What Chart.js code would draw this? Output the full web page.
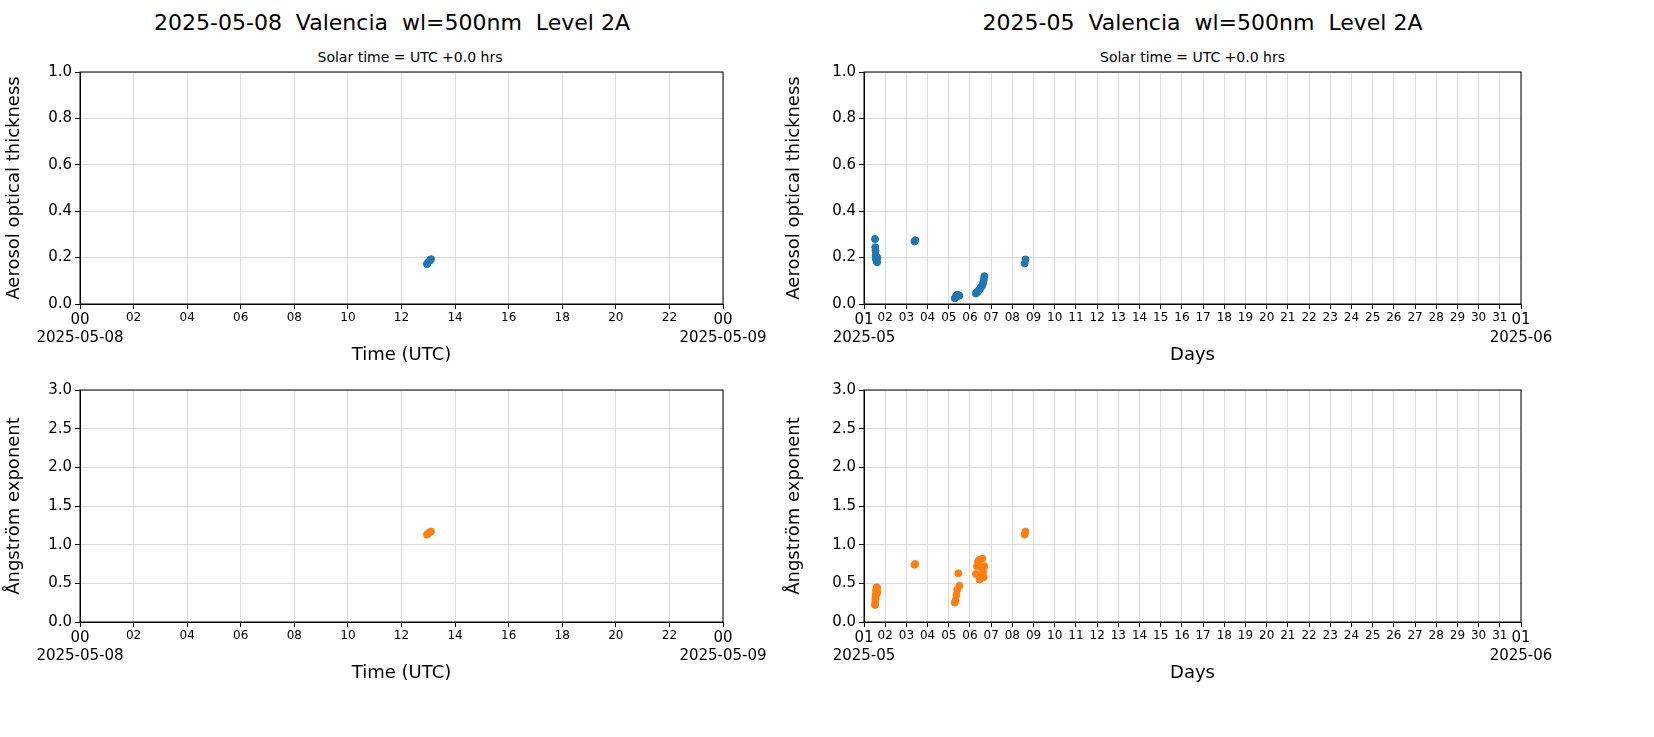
<!DOCTYPE html>
<html><head><meta charset="utf-8">
<script src="https://cdn.jsdelivr.net/npm/chart.js@4"></script>
<style>
body{margin:0;background:#fff;font-family:"DejaVu Sans",sans-serif;}
.box{position:absolute;}
.t{position:absolute;text-align:center;color:#000;}
</style></head><body>
<div class="t" style="left:0;width:784px;top:10px;font-size:22px">2025-05-08&nbsp; Valencia&nbsp; wl=500nm&nbsp; Level 2A</div>
<div class="t" style="left:0;width:784px;top:49px;font-size:14px;padding-left:18px">Solar time = UTC +0.0 hrs</div>
<div class="t" style="left:750px;width:905px;top:10px;font-size:22px">2025-05&nbsp; Valencia&nbsp; wl=500nm&nbsp; Level 2A</div>
<div class="t" style="left:750px;width:885px;top:49px;font-size:14px">Solar time = UTC +0.0 hrs</div>
<div class="box" style="left:0;top:60px;width:780px;height:310px"><canvas id="c1"></canvas></div>
<div class="box" style="left:0;top:378px;width:780px;height:310px"><canvas id="c2"></canvas></div>
<div class="box" style="left:780px;top:60px;width:874px;height:310px"><canvas id="c3"></canvas></div>
<div class="box" style="left:780px;top:378px;width:874px;height:310px"><canvas id="c4"></canvas></div>
<script>
// daily panel: hour of day (UTC)
const dayHours = [12.95, 12.98, 13.05, 13.1];
const dayAod = [0.172, 0.178, 0.186, 0.193];
const dayAlpha = [1.13, 1.14, 1.16, 1.17];

// monthly panel: fractional day of May
const monDays = [1.52,1.53,1.54,1.55,1.56,1.57,1.58,1.6,1.62,1.63, 3.38,3.42, 5.28,5.32,5.36,5.4,5.45,5.5, 6.28,6.33,6.38,6.42,6.46,6.5,6.54,6.58,6.62,6.65,6.68, 8.58,8.62];
const monAod = [0.28,0.245,0.23,0.21,0.2,0.195,0.19,0.185,0.18,0.2, 0.27,0.275, 0.025,0.03,0.035,0.04,0.038,0.036, 0.045,0.05,0.055,0.06,0.065,0.07,0.075,0.08,0.09,0.105,0.12, 0.175,0.192];
const monAlpha = [0.22,0.26,0.3,0.33,0.36,0.4,0.42,0.45,0.44,0.38, 0.74,0.75, 0.25,0.28,0.35,0.42,0.63,0.47, 0.62,0.72,0.78,0.8,0.55,0.6,0.7,0.82,0.65,0.58,0.72, 1.13,1.17];

const hourTicks = [0,2,4,6,8,10,12,14,16,18,20,22,24];
const dayTicks = Array.from({length:32},(_,i)=>i+1);

function pts(xs, ys){ return xs.map((x,i)=>({x:x,y:ys[i]})); }
const ff = 'DejaVu Sans';

function make(id, data, color, xr, xticks, xlab, ylab, ymax, ystep, leftW, rightPad, tickFn){
  new Chart(document.getElementById(id), {
    type:'scatter',
    data:{datasets:[{data:data, backgroundColor:color, borderColor:color, pointRadius:3.5, pointHoverRadius:3.5}]},
    options:{
      responsive:true, maintainAspectRatio:false, animation:false,
      layout:{padding:{top:10,right:rightPad,left:0,bottom:0}},
      plugins:{legend:{display:false}, tooltip:{enabled:false}},
      scales:{
        x:{type:'linear', min:xr[0], max:xr[1],
          afterBuildTicks:s=>{s.ticks=xticks.map(v=>({value:v}));},
          afterFit:s=>{s.height=66; s.paddingLeft=0; s.paddingRight=0;},
          grid:{color:'#dcdcdc', drawTicks:true, tickLength:5, tickColor:'#000'},
          border:{color:'#000'},
          ticks:{color:'#000', maxRotation:0, autoSkip:false, padding:2,
            font:c=>({family:ff, size:(c.index===0||c.index===xticks.length-1)?15:12}),
            callback:tickFn},
          title:{display:true, text:xlab, color:'#000', font:{family:ff,size:18}, padding:{top:0}}},
        y:{min:0, max:ymax,
          ticks:{stepSize:ystep, color:'#000', font:{family:ff,size:15}, callback:v=>v.toFixed(1)},
          afterFit:s=>{s.width=leftW;},
          grid:{color:'#dcdcdc', tickLength:5, tickColor:'#000'},
          border:{color:'#000'},
          title:{display:true, text:ylab, color:'#000', font:{family:ff,size:18}, padding:{bottom:2}}}
      }
    },
    plugins:[{id:'frame',afterDraw(ch){const a=ch.chartArea,x=ch.ctx;x.save();x.strokeStyle='#000';x.lineWidth=1;x.strokeRect(a.left,a.top,a.right-a.left,a.bottom-a.top);x.restore();}}]
  });
}
const hourLab = (v,i)=>{const s=String(v%24).padStart(2,'0'); if(i===0) return [s,'2025-05-08']; if(v===24) return [s,'2025-05-09']; return s;};
const dayLab = (v,i)=>{const d=v>31?1:v; const s=String(d).padStart(2,'0'); if(i===0) return [s,'2025-05']; if(v===32) return [s,'2025-06']; return s;};

make('c1', pts(dayHours,dayAod), '#1f77b4', [0,24], hourTicks, 'Time (UTC)', 'Aerosol optical thickness', 1, 0.2, 80, 57, hourLab);
make('c2', pts(dayHours,dayAlpha), '#ff7f0e', [0,24], hourTicks, 'Time (UTC)', 'Ångström exponent', 3, 0.5, 80, 57, hourLab);
make('c3', pts(monDays,monAod), '#1f77b4', [1,32], dayTicks, 'Days', 'Aerosol optical thickness', 1, 0.2, 84, 133, dayLab);
make('c4', pts(monDays,monAlpha), '#ff7f0e', [1,32], dayTicks, 'Days', 'Ångström exponent', 3, 0.5, 84, 133, dayLab);
</script>
</body></html>
